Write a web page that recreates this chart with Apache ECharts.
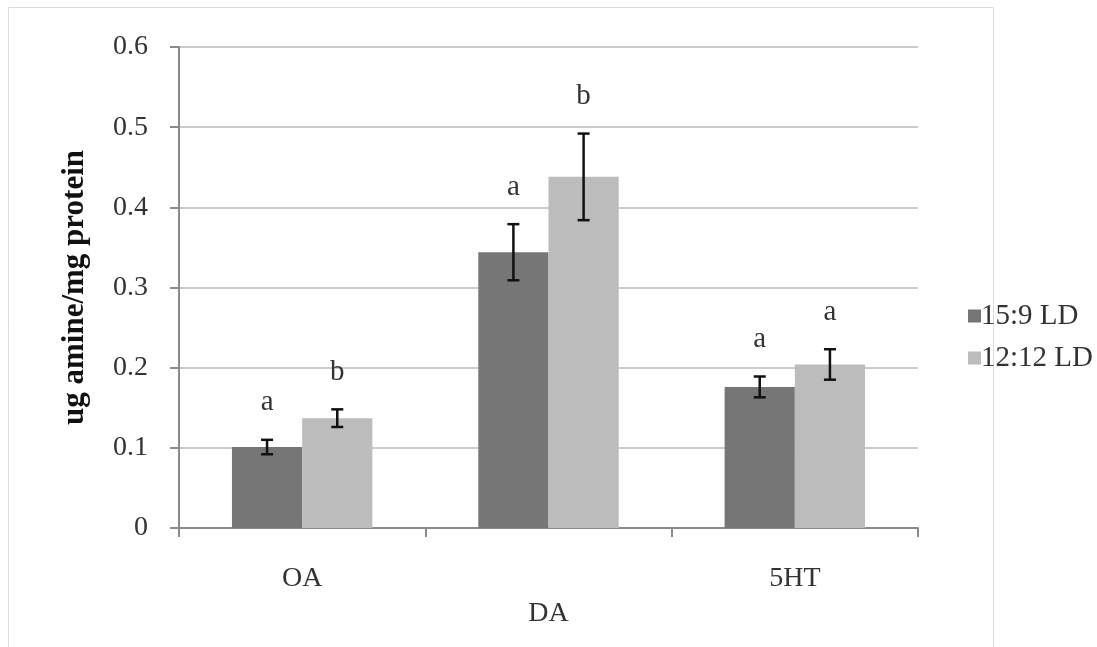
<!DOCTYPE html>
<html>
<head>
<meta charset="utf-8">
<script src="https://cdn.jsdelivr.net/npm/echarts@6/dist/echarts.min.js"></script>
<style>
html,body{margin:0;padding:0;background:#fff;}
#chart{width:1097px;height:647px;}
</style>
</head>
<body>
<div id="chart"></div>
<script>
var categories = ['OA', 'DA', '5HT'];
var seriesNames = ['15:9 LD', '12:12 LD'];
var means159 = [0.101, 0.344, 0.176];
var means1212 = [0.137, 0.438, 0.204];
var err159 = [0.009, 0.035, 0.013];
var err1212 = [0.011, 0.054, 0.019];
var letters159 = ['a', 'a', 'a'];
var letters1212 = ['b', 'b', 'a'];
var yTicks = [0, 0.1, 0.2, 0.3, 0.4, 0.5, 0.6];

var FONT = '"Liberation Serif", "DejaVu Serif", serif';
var colors = ['#767676', '#bcbcbc'];
var CAT_GAP = 0.43;
var letters = [letters159, letters1212];

function errData(means, errs, lets) {
  return means.map(function (m, i) { return [i, m, errs[i], lets[i]]; });
}

function makeErr(seriesIdx) {
  return function (params, api) {
    var ci = api.value(0), m = api.value(1), e = api.value(2);
    var letter = letters[seriesIdx][params.dataIndex];
    var catW = api.size([1, 0])[0];
    var bw = catW * (1 - CAT_GAP) / 2;
    var center = api.coord([ci, m]);
    var x = center[0] + (seriesIdx === 0 ? -bw / 2 : bw / 2);
    var top = api.coord([ci, m + e])[1];
    var bot = api.coord([ci, m - e])[1];
    var cap = 6;
    var ls = { stroke: '#111', lineWidth: 2.5 };
    return {
      type: 'group',
      children: [
        { type: 'line', shape: { x1: x, y1: top, x2: x, y2: bot }, style: ls },
        { type: 'line', shape: { x1: x - cap, y1: top, x2: x + cap, y2: top }, style: ls },
        { type: 'line', shape: { x1: x - cap, y1: bot, x2: x + cap, y2: bot }, style: ls },
        { type: 'text', style: { x: x, y: top - 37, text: letter, font: '29px ' + FONT, fill: '#333', align: 'center', verticalAlign: 'middle' } }
      ]
    };
  };
}

var chart = echarts.init(document.getElementById('chart'));
chart.setOption({
  animation: false,
  backgroundColor: '#fff',
  graphic: [{
    type: 'rect', silent: true, z: -10,
    shape: { x: 8.5, y: 7.5, width: 985, height: 660 },
    style: { fill: 'none', stroke: '#dcdcdc', lineWidth: 1 }
  }],
  grid: { left: 179, right: 179, top: 47, bottom: 119 },
  legend: {
    orient: 'vertical', left: 963, top: 296,
    itemWidth: 13, itemHeight: 13, itemGap: 12,
    icon: 'rect',
    textStyle: { fontFamily: FONT, fontSize: 29, lineHeight: 30, color: '#333', padding: [0, 0, 0, -5] },
    data: seriesNames
  },
  xAxis: {
    type: 'category', data: categories,
    axisLine: { lineStyle: { color: '#8a8a8a', width: 2 } },
    axisTick: { show: true, alignWithLabel: false, length: 9, lineStyle: { color: '#8a8a8a', width: 2 } },
    axisLabel: {
      margin: 37, color: '#333',
      formatter: function (v, i) { return i === 1 ? '{low|' + v + '}' : '{n|' + v + '}'; },
      rich: {
        n: { fontFamily: FONT, fontSize: 28, color: '#333' },
        low: { fontFamily: FONT, fontSize: 28, color: '#333', padding: [35, 0, 0, 0] }
      }
    }
  },
  yAxis: {
    type: 'value', min: yTicks[0], max: yTicks[yTicks.length - 1], interval: 0.1,
    name: 'ug amine/mg protein', nameLocation: 'middle', nameGap: 89,
    nameTextStyle: { fontFamily: FONT, fontSize: 31, fontWeight: 'bold', color: '#111' },
    axisLine: { show: true, lineStyle: { color: '#8a8a8a', width: 2 } },
    axisTick: { show: true, length: 9, lineStyle: { color: '#8a8a8a', width: 2 } },
    axisLabel: {
      margin: 31, fontFamily: FONT, fontSize: 28, color: '#333',
      formatter: function (v) { return v === 0 ? '0' : v.toFixed(1); }
    },
    splitLine: { lineStyle: { color: '#cbcbcb', width: 2 } }
  },
  series: [
    { name: seriesNames[0], type: 'bar', data: means159, barGap: '0%', barCategoryGap: (CAT_GAP * 100) + '%', itemStyle: { color: colors[0] } },
    { name: seriesNames[1], type: 'bar', data: means1212, barGap: '0%', barCategoryGap: (CAT_GAP * 100) + '%', itemStyle: { color: colors[1] } },
    { type: 'custom', renderItem: makeErr(0), data: errData(means159, err159, letters159), z: 10, encode: { x: 0, y: 1 } },
    { type: 'custom', renderItem: makeErr(1), data: errData(means1212, err1212, letters1212), z: 10, encode: { x: 0, y: 1 } }
  ]
});
</script>
</body>
</html>
